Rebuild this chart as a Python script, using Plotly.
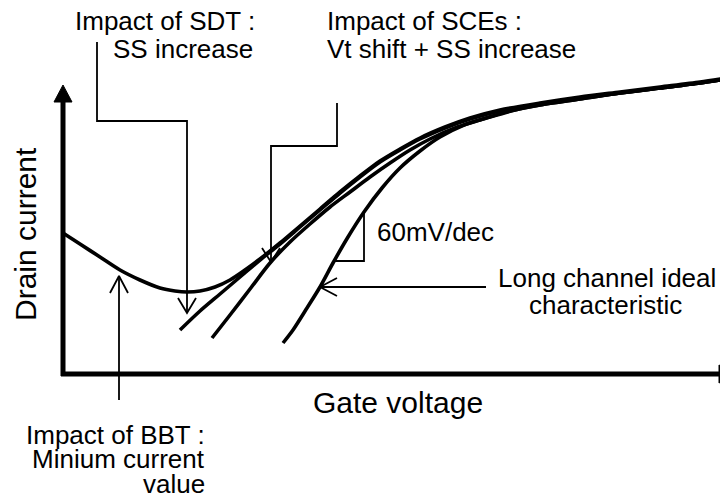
import plotly.graph_objects as go

# Schematic Id(Vg) curves, arbitrary units (x = gate voltage, y = log drain current)
bbt_x = [0, 17, 37, 57, 77, 97, 112, 124, 137, 152, 167, 182, 197, 217, 237, 257, 277, 297,
         317, 337, 357, 382, 407, 437, 477, 517, 557, 597, 637, 663]
bbt_y = [141, 130, 117, 104, 94, 86, 83, 82, 83, 87, 94, 104, 115, 131, 148, 165, 182, 198,
         213, 225, 236, 247, 256, 264, 271, 277, 282, 287, 292, 296]

sdt_x = [117, 137, 157, 177, 197, 217, 237, 257, 277, 297, 317, 337, 357, 382, 407, 437,
         477, 517, 557, 597, 637, 663]
sdt_y = [44, 63, 80, 97, 114, 130, 147, 164, 181, 197, 212, 224, 235, 246, 255, 263,
         270, 276, 281, 286, 291, 295]

sce_x = [149, 167, 187, 207, 227, 247, 267, 287, 307, 327, 347, 367, 392, 417, 447, 477,
         517, 557, 597, 637, 663]
sce_y = [36, 59, 85, 111, 132, 150, 167, 182, 197, 211, 224, 235, 246, 254, 263, 269,
         275, 281, 286, 291, 295]

ideal_x = [220, 230, 244, 257, 270, 285, 301, 319, 337, 357, 377, 401, 427, 452, 477, 517,
           557, 597, 637, 663]
ideal_y = [31, 44, 66, 87, 111, 137, 162, 186, 206, 223, 237, 249, 257, 264, 269, 275,
           281, 286, 291, 295]

# annotation leader lines
sdt_lead_x = [34, 34, 124, 124]
sdt_lead_y = [332, 253, 253, 61]
sdt_head_x = [115, 124, 133]
sdt_head_y = [76, 61, 76]

sce_lead_x = [274, 274, 208, 208]
sce_lead_y = [271, 228, 228, 112]
sce_head_x = [199, 208, 217]
sce_head_y = [126, 112, 126]

bbt_lead_x = [56, 56]
bbt_lead_y = [-26, 98]
bbt_head_x = [47, 56, 65]
bbt_head_y = [81, 98, 81]

ideal_lead_x = [423, 257]
ideal_lead_y = [87, 87]
ideal_head_x = [274, 257, 274]
ideal_head_y = [96, 87, 78]

slope_x = [301, 301, 270]
slope_y = [162, 113, 113]

# axes with arrows
yaxis_x = [0, 0]
yaxis_y = [-2, 274]
yarrow_x = [-9, 0, 9, -9]
yarrow_y = [272, 289, 272, 272]
xaxis_x = [-2, 658]
xaxis_y = [0, 0]
xarrow_x = [656, 673, 656, 656]
xarrow_y = [9, 0, -9, 9]

FONT = "Liberation Sans, Arial, sans-serif"

fig = go.Figure()


def line(x, y, w):
    fig.add_trace(go.Scatter(x=x, y=y, mode="lines", line=dict(color="black", width=w),
                             hoverinfo="skip", showlegend=False))


def curve(x, y):
    fig.add_trace(go.Scatter(x=x, y=y, mode="lines",
                             line=dict(color="black", width=3.6, shape="spline", smoothing=0.8),
                             hoverinfo="skip", showlegend=False))


def tri(x, y):
    fig.add_trace(go.Scatter(x=x, y=y, mode="lines", fill="toself", fillcolor="black",
                             line=dict(color="black", width=1), hoverinfo="skip", showlegend=False))


line(yaxis_x, yaxis_y, 5)
line(xaxis_x, xaxis_y, 5)
tri(yarrow_x, yarrow_y)
tri(xarrow_x, xarrow_y)

curve(bbt_x, bbt_y)
curve(sdt_x, sdt_y)
curve(sce_x, sce_y)
curve(ideal_x, ideal_y)

for lx, ly in [(sdt_lead_x, sdt_lead_y), (sdt_head_x, sdt_head_y),
               (sce_lead_x, sce_lead_y), (sce_head_x, sce_head_y),
               (bbt_lead_x, bbt_lead_y), (bbt_head_x, bbt_head_y),
               (ideal_lead_x, ideal_lead_y), (ideal_head_x, ideal_head_y),
               (slope_x, slope_y)]:
    line(lx, ly, 1.8)

labels = [
    ("Impact of SDT :", 194, 353, "right", 26, 0),
    ("SS increase", 192, 325, "right", 26, 0),
    ("Impact of SCEs :", 262, 353, "left", 26, 0),
    ("Vt shift + SS increase", 262, 325, "left", 26, 0),
    ("60mV/dec", 312, 142, "left", 26, 0),
    ("Long channel ideal", 544, 96, "center", 26, 0),
    ("characteristic", 542, 69, "center", 26, 0),
    ("Impact of BBT :", 144, -61, "right", 26, 0),
    ("Minium current", 144, -85, "right", 26, 0),
    ("value", 144, -110, "right", 26, 0),
    ("Gate voltage", 335, -28, "center", 30, 0),
    ("Drain current", -38, 140, "center", 30, -90),
]
for txt, x, y, anchor, size, rot in labels:
    fig.add_annotation(x=x, y=y, xref="x", yref="y", text=txt, showarrow=False,
                       xanchor=anchor, yanchor="middle", textangle=rot,
                       font=dict(family=FONT, size=size, color="black"))

# the page body adds an 8px margin, so the figure is 8px smaller and starts 8 units in
fig.update_xaxes(range=[-55, 665], visible=False, fixedrange=True)
fig.update_yaxes(range=[-123, 366], visible=False, fixedrange=True)
fig.update_layout(width=720, height=489, margin=dict(l=0, r=0, t=0, b=0),
                  plot_bgcolor="white", paper_bgcolor="white", showlegend=False)

fig.write_html("out.html", config={"displayModeBar": False})
